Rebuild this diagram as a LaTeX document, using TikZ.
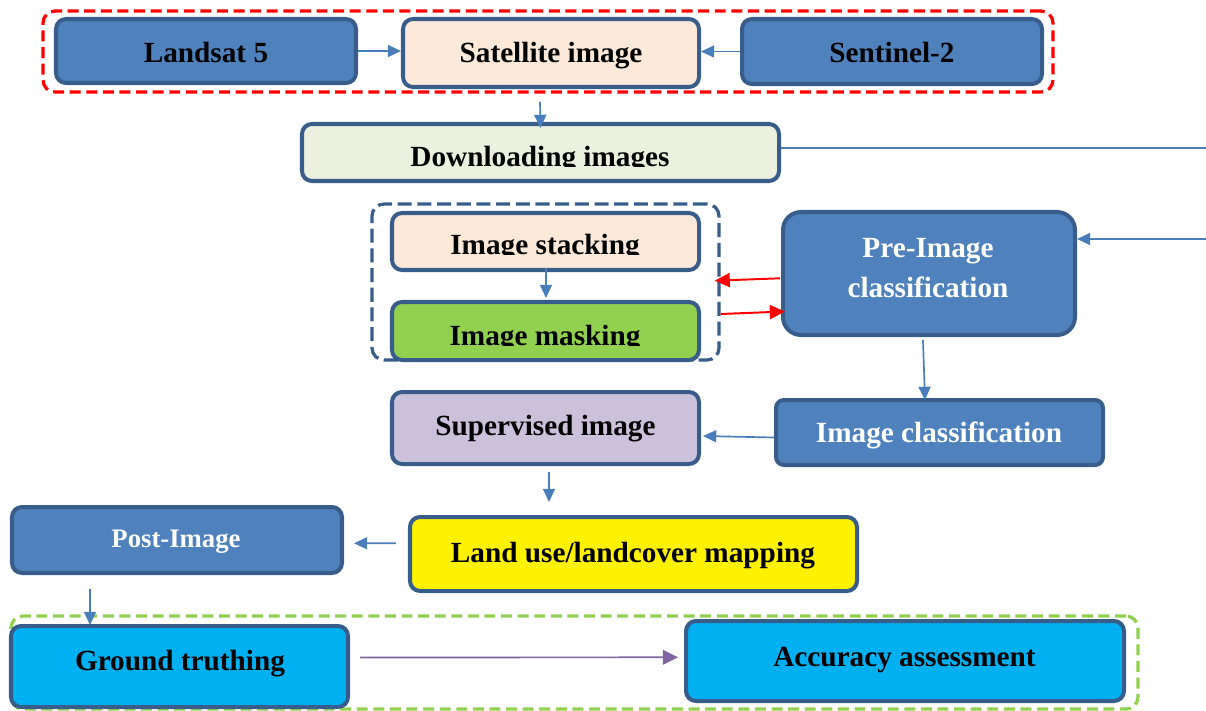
\documentclass[tikz,border=0pt]{standalone}
\usepackage{fontspec}
\setmainfont{Liberation Serif}
\usetikzlibrary{arrows.meta,calc,fit}
\definecolor{bord}{HTML}{385D8A}
\definecolor{blu}{HTML}{4F81BD}
\definecolor{conblue}{HTML}{4A7EBB}
\definecolor{peach}{HTML}{FDE9D9}
\definecolor{lgreen}{HTML}{EBF1DE}
\definecolor{lav}{HTML}{CCC1DA}
\definecolor{grn}{HTML}{92D050}
\definecolor{cyanb}{HTML}{00B0F0}
\definecolor{purp}{HTML}{8064A2}
\begin{document}
\begin{tikzpicture}[x=0.025cm,y=-0.025cm,
  box/.style={draw=bord,line width=2.85pt,rounded corners=0.25cm,inner sep=0pt},
  grpbox/.style={line width=2.3pt,rounded corners=0.3cm,inner sep=0pt,dash pattern=on 7.8pt off 4pt},
  txt/.style={anchor=base,inner sep=0pt,font=\fontsize{20.8}{25}\selectfont\bfseries},
  conn/.style={draw=conblue,line width=1.2pt,-{Triangle[length=0.33cm,width=0.3cm]}},
  redconn/.style={draw=red,line width=1.4pt,-{Triangle[length=0.38cm,width=0.35cm]}},
  purpconn/.style={draw=purp,line width=1.2pt,-{Triangle[length=0.38cm,width=0.37cm]}}]
\useasboundingbox (0,0) rectangle (1206,711);

% group frames
\node[grpbox,draw=red,fit={(43,11) (1053,92)}] (grp1) {};
\node[grpbox,draw=bord,dash pattern=on 10pt off 4pt,fit={(372,204) (719,360)}] (grp2) {};
\node[grpbox,draw=grn,fit={(11,616) (1138,709)}] (grp3) {};

% boxes
\node[box,fill=blu,fit={(56,19) (356,83)}] (land) {};
\node[box,fill=peach,fit={(403,19) (699,87)}] (sat) {};
\node[box,fill=blu,fit={(742,19) (1042,84)}] (sent) {};
\node[box,fill=lgreen,fit={(302,124) (779,181)}] (down) {};
\node[box,fill=peach,fit={(392,213) (699,270)}] (stack) {};
\node[box,fill=grn,fit={(392,302) (699,360)}] (mask) {};
\node[box,fill=blu,rounded corners=0.45cm,fit={(783,212) (1075,335)}] (pre) {};
\node[box,fill=blu,rounded corners=0.2cm,fit={(776,400) (1103,465)}] (imgcl) {};
\node[box,fill=lav,fit={(392,392) (699,464)}] (sup) {};
\node[box,fill=yellow,fit={(410,517) (857,591)}] (luse) {};
\node[box,fill=blu,fit={(12,507) (342,573)}] (post) {};
\node[box,fill=cyanb,fit={(11,626) (348,707)}] (ground) {};
\node[box,fill=cyanb,fit={(686,621) (1124,701)}] (acc) {};

% texts
\node[txt] (landT) at (206,62) {Landsat 5};
\node[txt] (satT) at (551,62) {Satellite image};
\node[txt] (sentT) at (892,62) {Sentinel-2};
\begin{scope}
\clip (0,0) rectangle (1206,166.5);
\node[txt] (downT) at (540,166) {Downloading images};
\end{scope}
\begin{scope}
\clip (0,0) rectangle (1206,254.5);
\node[txt] (stackT) at (545,254) {Image stacking};
\end{scope}
\begin{scope}
\clip (0,280) rectangle (1206,345.5);
\node[txt] (maskT) at (545,345) {Image masking};
\end{scope}
\node[txt,white] (preT1) at (928,257) {Pre-Image};
\node[txt,white] (preT2) at (928,297) {classification};
\node[txt,white] (imgclT) at (939,442) {Image classification};
\node[txt] (supT) at (545.5,435) {Supervised image};
\node[txt] (luseT) at (633,562) {Land use/landcover mapping};
\node[txt,white,font=\fontsize{19}{23}\selectfont\bfseries] (postT) at (176,547) {Post-Image};
\node[txt] (groundT) at (180,670) {Ground truthing};
\node[txt] (accT) at (904.5,666) {Accuracy assessment};

% connectors
\coordinate (edge1) at (1206,148);
\coordinate (edge2) at (1206,239);
\draw[conn] (land.east) -- (land.east -| sat.west);
\draw[conn] (sent.west) -- (sent.west -| sat.east);
\draw[conn] ($(grp1.south)+(-8,8)$) -- ($(down.north)+(0,6)$);
\draw[draw=conblue,line width=1.2pt] (down.east |- edge1) -- (edge1);
\draw[conn] (edge2) -- (edge2 -| pre.east);
\draw[conn] ($(stack.south)+(0.5,-4)$) -- ($(mask.north)+(0.5,-2)$);
\draw[redconn] ($(pre.west)+(-1,4.8)$) -- ($(grp2.east)+(-6,-1.3)$);
\draw[redconn] ($(grp2.east)+(0,32)$) -- ($(pre.west)+(4,38)$);
\draw[conn] ($(pre.south)+(-6,3)$) -- ($(imgcl.north)+(-14.5,2)$);
\draw[conn] ($(imgcl.west)+(0,5)$) -- ($(sup.east)+(2,8)$);
\draw[conn] ($(sup.south)+(3.5,6)$) -- ($(sup.south)+(3.5,36)$);
\draw[conn] ($(luse.west)+(-12,-10.7)$) -- ($(post.east)+(10,3.3)$);
\draw[conn] ($(post.south)+(-87,13.7)$) -- ($(ground.north)+(-89.5,1)$);
\draw[purpconn] ($(ground.east)+(10,-9)$) -- ($(acc.west)+(-6,-3.7)$);
\end{tikzpicture}
\end{document}
